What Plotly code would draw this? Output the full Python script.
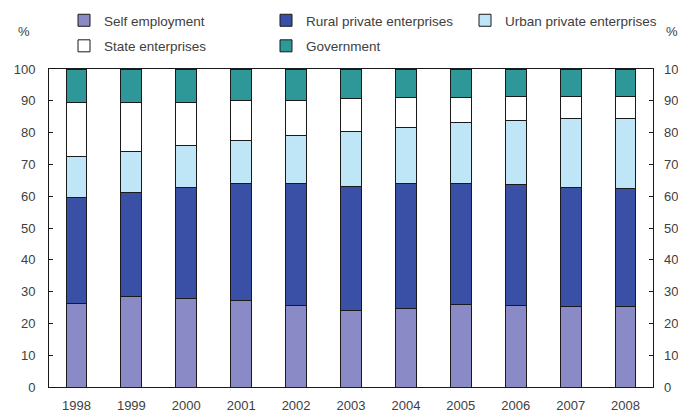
import plotly.graph_objects as go

years = ["1998", "1999", "2000", "2001", "2002", "2003", "2004", "2005", "2006", "2007", "2008"]
self_employment = [26.3, 28.6, 27.7, 27.3, 25.7, 24.2, 24.8, 25.8, 25.7, 25.2, 25.2]
rural_private = [33.2, 32.7, 35.1, 36.7, 38.2, 39.0, 39.1, 38.1, 37.9, 37.6, 37.3]
urban_private = [13.1, 12.9, 13.3, 13.4, 15.1, 17.2, 17.7, 19.3, 20.3, 21.7, 22.0]
state_enterprises = [17.0, 15.4, 13.5, 12.6, 11.1, 10.3, 9.4, 7.8, 7.5, 6.9, 6.9]
government = [10.4, 10.4, 10.4, 10.0, 9.9, 9.3, 9.0, 9.0, 8.6, 8.6, 8.6]
y_ticks = list(range(0, 101, 10))

# the page body adds an 8px offset; the figure is laid out in screen pixels minus that
OFF = 8
W, H = 686 - OFF, 417 - OFF
L, T = 49 - OFF, 69 - OFF
R = W - (653 - OFF)
B = H - (387 - OFF)
pw, ph = W - L - R, H - T - B

def px_x(p):
    return (p - OFF - L) / pw

def px_y(p):
    return (H - B - (p - OFF)) / ph

font = "Liberation Sans, Arial, sans-serif"
txt = "#404040"
fs = 13
lfs = 13.5

series = [
    ("Self employment", self_employment, "#8A8AC6", "legend"),
    ("Rural private enterprises", rural_private, "#3A4FA6", "legend2"),
    ("Urban private enterprises", urban_private, "#BEE6F7", "legend3"),
    ("State enterprises", state_enterprises, "#FFFFFF", "legend"),
    ("Government", government, "#2E9898", "legend2"),
]

fig = go.Figure()
for name, vals, col, lg in series:
    fig.add_trace(go.Bar(
        x=years, y=vals, name=name, legend=lg, legendgroup=name,
        marker=dict(color=col, line=dict(color="#1a1a1a", width=1)),
    ))

# invisible helper trace so the right-hand axis is drawn
fig.add_trace(go.Scatter(
    x=years, y=self_employment, yaxis="y2", mode="markers",
    marker=dict(opacity=0), showlegend=False, hoverinfo="skip",
))

axis_common = dict(
    range=[0, 100], tickvals=y_ticks, ticks="inside", ticklen=4,
    tickcolor="#1a1a1a", showgrid=False, zeroline=False,
    ticklabelstandoff=10,
    tickfont=dict(family=font, size=fs, color=txt),
)

def leg(text_x):
    return dict(
        orientation="v", x=px_x(text_x - 40), y=px_y(5), xanchor="left", yanchor="top",
        font=dict(family=font, size=lfs, color=txt), bgcolor="rgba(0,0,0,0)",
        traceorder="grouped", tracegroupgap=5, itemclick=False,
    )

fig.update_layout(
    width=W, height=H,
    margin=dict(l=L, r=R, t=T, b=B, autoexpand=False),
    paper_bgcolor="white", plot_bgcolor="white",
    barmode="stack", bargap=0.62,
    font=dict(family=font, size=fs, color=txt),
    xaxis=dict(
        showline=True, linecolor="#1a1a1a", linewidth=1, mirror=True,
        ticks="", showgrid=False, ticklabelstandoff=6,
        tickfont=dict(family=font, size=fs, color=txt),
        range=[-0.5, 10.5],
    ),
    yaxis=dict(showline=True, linecolor="#1a1a1a", linewidth=1, mirror=True, **axis_common),
    yaxis2=dict(overlaying="y", side="right", showline=False, **axis_common),
    legend=leg(104),
    legend2=leg(306),
    legend3=leg(505),
    annotations=[
        dict(text="%", xref="paper", yref="paper", x=px_x(24), y=px_y(32),
             xanchor="center", yanchor="middle",
             showarrow=False, font=dict(family=font, size=fs, color=txt)),
        dict(text="%", xref="paper", yref="paper", x=px_x(672), y=px_y(32),
             xanchor="center", yanchor="middle",
             showarrow=False, font=dict(family=font, size=fs, color=txt)),
    ],
)

fig.write_html("out.html")
